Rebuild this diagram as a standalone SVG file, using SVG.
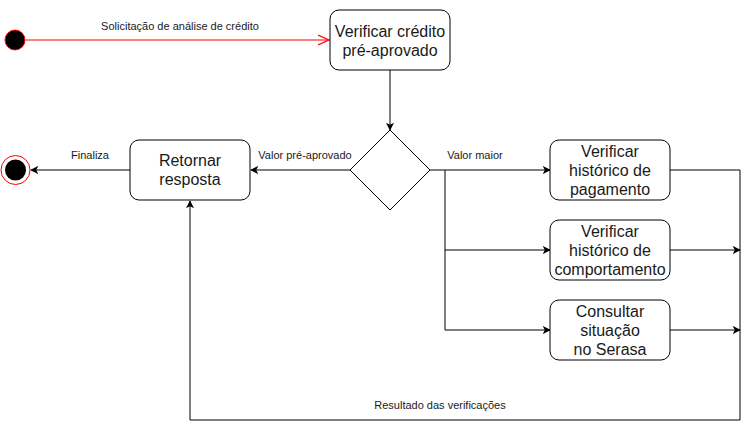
<svg xmlns="http://www.w3.org/2000/svg" width="749" height="429" viewBox="0 0 749 429">
<style>
.box{fill:#fff;stroke:#000;stroke-width:1}
.t{font-family:"Liberation Sans",Arial,sans-serif;font-size:16px;fill:#1a1a1a;text-anchor:middle}
.l{font-family:"Liberation Sans",Arial,sans-serif;font-size:11px;fill:#1a1a1a;text-anchor:middle}
.c{fill:none;stroke:#000;stroke-width:1}
</style>
<defs>
<marker id="a" viewBox="0 0 10 10" refX="9" refY="5" markerWidth="8" markerHeight="8" markerUnits="userSpaceOnUse" orient="auto">
<path d="M0,0 L10,5 L0,10 L2.5,5 Z" fill="#000"/>
</marker>
<marker id="o" viewBox="0 0 12 12" refX="11" refY="6" markerWidth="12" markerHeight="12" markerUnits="userSpaceOnUse" orient="auto">
<path d="M0,1 L11,6 L0,11" fill="none" stroke="#ff0000" stroke-width="1.2"/>
</marker>
</defs>
<rect width="749" height="429" fill="#fff"/>
<g id="connectors">
<line x1="26" y1="40" x2="329" y2="40" stroke="#ff0000" stroke-width="1" marker-end="url(#o)"/>
<line class="c" x1="390" y1="70" x2="390" y2="130" marker-end="url(#a)"/>
<line class="c" x1="350" y1="170" x2="251" y2="170" marker-end="url(#a)"/>
<line class="c" x1="130" y1="170" x2="31" y2="170" marker-end="url(#a)"/>
<line class="c" x1="430" y1="170" x2="550" y2="170" marker-end="url(#a)"/>
<polyline class="c" points="445,170 445,330 550,330" marker-end="url(#a)"/>
<line class="c" x1="445" y1="250" x2="550" y2="250" marker-end="url(#a)"/>
<polyline class="c" points="670,170 740,170 740,420 190,420 190,201" marker-end="url(#a)"/>
<line class="c" x1="670" y1="250" x2="740" y2="250" marker-end="url(#a)"/>
<line class="c" x1="670" y1="330" x2="740" y2="330" marker-end="url(#a)"/>
<text class="l" x="180" y="30">Solicitação de análise de crédito</text>
<text class="l" x="305" y="159">Valor pré-aprovado</text>
<text class="l" x="90" y="159">Finaliza</text>
<text class="l" x="475" y="159">Valor maior</text>
<text class="l" x="440" y="409">Resultado das verificações</text>
</g>
<g id="start">
<circle cx="15" cy="40" r="10" fill="#000" stroke="#ff0000" stroke-width="1"/>
</g>
<g id="end">
<circle cx="15.5" cy="170" r="14.5" fill="#fff" stroke="#ff0000" stroke-width="1"/>
<circle cx="15.5" cy="170" r="10.5" fill="#000"/>
</g>
<g id="verificar-credito">
<rect class="box" x="330" y="10" width="120" height="60" rx="9"/>
<text class="t" x="390" y="37">Verificar crédito</text>
<text class="t" x="390" y="56">pré-aprovado</text>
</g>
<g id="decisao">
<polygon class="box" points="390,130 430,170 390,210 350,170"/>
</g>
<g id="retornar">
<rect class="box" x="130" y="140" width="120" height="60" rx="9"/>
<text class="t" x="190" y="166">Retornar</text>
<text class="t" x="190" y="185">resposta</text>
</g>
<g id="pagamento">
<rect class="box" x="550" y="140" width="120" height="60" rx="9"/>
<text class="t" x="610" y="157">Verificar</text>
<text class="t" x="610" y="176">histórico de</text>
<text class="t" x="610" y="195">pagamento</text>
</g>
<g id="comportamento">
<rect class="box" x="550" y="220" width="120" height="60" rx="9"/>
<text class="t" x="610" y="237">Verificar</text>
<text class="t" x="610" y="256">histórico de</text>
<text class="t" x="610" y="275">comportamento</text>
</g>
<g id="serasa">
<rect class="box" x="550" y="300" width="120" height="60" rx="9"/>
<text class="t" x="610" y="317">Consultar</text>
<text class="t" x="610" y="336">situação</text>
<text class="t" x="610" y="355">no Serasa</text>
</g>
</svg>
